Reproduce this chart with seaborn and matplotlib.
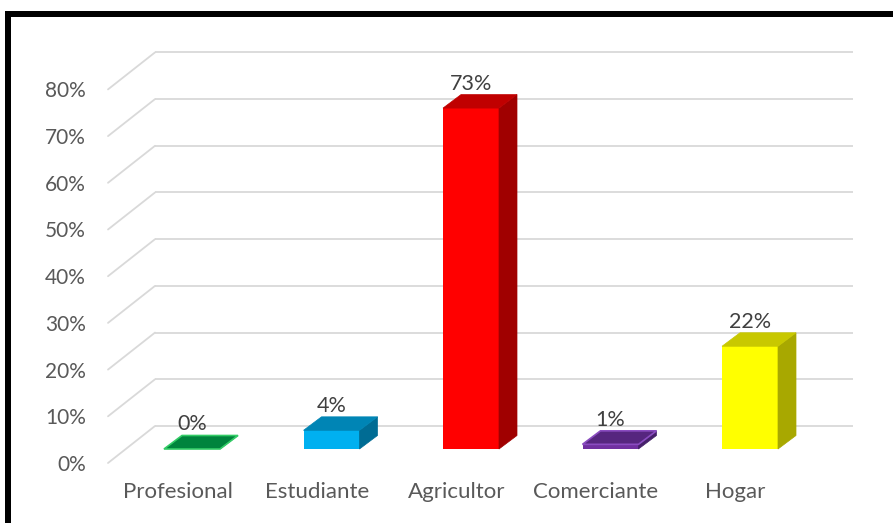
import numpy as np
import matplotlib
matplotlib.use("Agg")
import matplotlib.pyplot as plt
from matplotlib.patches import Polygon, Rectangle
import seaborn as sns

# Occupation survey results
categories = ["Profesional", "Estudiante", "Agricultor", "Comerciante", "Hogar"]
values = [0, 4, 73, 1, 22]
value_labels = ["0%", "4%", "73%", "1%", "22%"]
tick_values = [0, 10, 20, 30, 40, 50, 60, 70, 80]
tick_labels = ["0%", "10%", "20%", "30%", "40%", "50%", "60%", "70%", "80%"]

front_colors = ["#00843D", "#00B0F0", "#FF0000", "#7030A0", "#FFFF00"]
top_colors = ["#00843D", "#0085B5", "#C00000", "#56267F", "#C8C800"]
side_colors = ["#006A31", "#006C94", "#A00000", "#45206A", "#A8A800"]
edge_colors = ["#33CC66", "#00B0F0", "#FF0000", "#8A4CC0", "#FFFF00"]

sns.set_theme(style="white")
plt.rcParams["font.family"] = ["Lato", "DejaVu Sans"]

W, H = 893, 523
DPI = 100
fig = plt.figure(figsize=(W / DPI, H / DPI), dpi=DPI)

# pixel geometry of the plot area
px_per_pct = 4.67
px_per_cat = 139.5
x0_px = 192.0
base_px = 449.0
ax_l, ax_r, ax_t, ax_b = 100, 860, 40, 470
xlim = ((ax_l - x0_px) / px_per_cat, (ax_r - x0_px) / px_per_cat)
ylim = ((base_px - ax_b) / px_per_pct, (base_px - ax_t) / px_per_pct)
ax = fig.add_axes([ax_l / W, (H - ax_b) / H, (ax_r - ax_l) / W, (ax_b - ax_t) / H])

bar_w = 56 / px_per_cat
ddx = 18 / px_per_cat
ddy = 13.5 / px_per_pct

sns.barplot(x=categories, y=values, hue=categories, palette=front_colors,
            width=bar_w, saturation=1, legend=False, ax=ax, zorder=3,
            linewidth=0)

# back wall gridlines with a receding floor edge
back_dy = 23 / px_per_pct
front_dy = -14 / px_per_pct
wall_left = (155 - x0_px) / px_per_cat
wall_right = (853 - x0_px) / px_per_cat
front_left = (108 - x0_px) / px_per_cat
grid_c = "#D9D9D9"
for v in tick_values:
    ax.plot([wall_left, wall_right], [v + back_dy, v + back_dy], color=grid_c,
            lw=1.3, zorder=1, clip_on=False, solid_capstyle="butt")
    ax.plot([front_left, wall_left], [v + front_dy, v + back_dy], color=grid_c,
            lw=1.3, zorder=1, clip_on=False)

# 3D faces of each bar
for i, v in enumerate(values):
    l, r = i - bar_w / 2, i + bar_w / 2
    side = Polygon([(r, 0), (r + ddx, ddy), (r + ddx, v + ddy), (r, v)],
                   closed=True, facecolor=side_colors[i], edgecolor=side_colors[i],
                   lw=0.5, zorder=3)
    top = Polygon([(l, v), (r, v), (r + ddx, v + ddy), (l + ddx, v + ddy)],
                  closed=True, facecolor=top_colors[i],
                  edgecolor=edge_colors[i] if v < 2 else top_colors[i],
                  lw=1.2 if v < 2 else 0.5, zorder=4)
    ax.add_patch(side)
    ax.add_patch(top)
    ax.text(i, v + ddy + 1 / px_per_pct, value_labels[i], ha="center", va="bottom",
            fontsize=15.5, color="#404040", zorder=5)

ax.set_xlim(*xlim)
ax.set_ylim(*ylim)
ax.set_xticks(np.arange(len(categories)) - 14.5 / px_per_cat)
ax.set_xticklabels(categories)
ax.set_yticks(np.array(tick_values) + front_dy)
ax.set_yticklabels(tick_labels)
ax.tick_params(axis="both", length=0, labelcolor="#595959")
ax.tick_params(axis="x", pad=9, labelsize=16)
ax.tick_params(axis="y", pad=10, labelsize=15)
ax.set_xlabel("")
ax.set_ylabel("")
for s in ax.spines.values():
    s.set_visible(False)
ax.patch.set_alpha(0)

# chart frame
lw_px = 6
fig.patches.append(Rectangle((8 / W, -0.1), 1.2, (H - 14) / H + 0.1,
                             transform=fig.transFigure, fill=False,
                             edgecolor="black", lw=lw_px * 72 / DPI, zorder=10))

fig.savefig("out.png", dpi=DPI)
